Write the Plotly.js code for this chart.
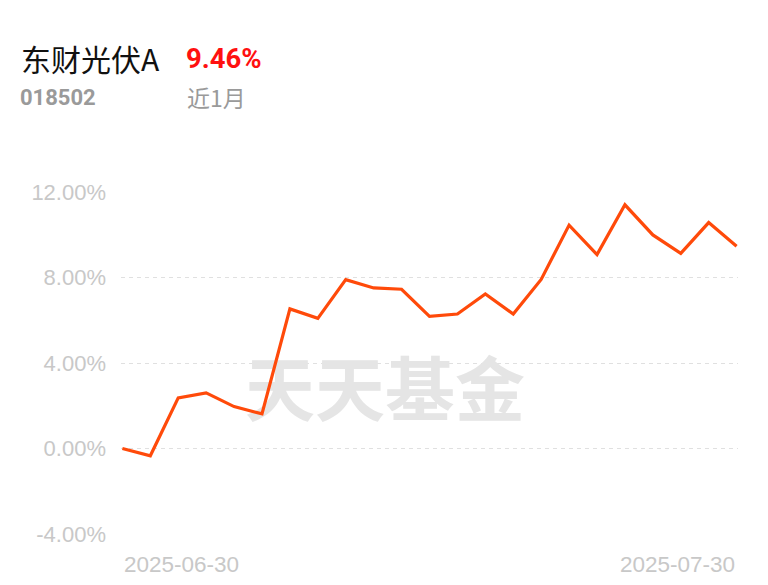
<!DOCTYPE html>
<html>
<head>
<meta charset="utf-8">
<script src="https://cdn.plot.ly/plotly-3.0.1.min.js"></script>
<style>
  html, body { margin: 0; padding: 0; background: #ffffff; }
  #chart { width: 768px; height: 585px; }
</style>
</head>
<body>
<div id="chart"></div>
<script>
const dates = ["2025-06-30","2025-07-01","2025-07-02","2025-07-03","2025-07-04",
  "2025-07-07","2025-07-08","2025-07-09","2025-07-10","2025-07-11",
  "2025-07-14","2025-07-15","2025-07-16","2025-07-17","2025-07-18",
  "2025-07-21","2025-07-22","2025-07-23","2025-07-24","2025-07-25",
  "2025-07-28","2025-07-29","2025-07-30"];
const returns = [0.00, -0.34, 2.37, 2.60, 1.96, 1.62, 6.53, 6.09, 7.90, 7.51, 7.45,
  6.18, 6.29, 7.23, 6.29, 7.91, 10.45, 9.07, 11.40, 9.99, 9.13, 10.57, 9.46];
const yTicks = [-4, 0, 4, 8, 12];
const yTickText = yTicks.map(v => v.toFixed(2) + "%");
const xLabels = ["2025-06-30", "2025-07-30"];
const fundName = "东财光伏A";
const fundCode = "018502";
const periodLabel = "近1月";
const periodReturn = "9.46%";
const watermark = "天天基金";

const mainFont = "Roboto, 'Noto Sans CJK SC', sans-serif";
const axisFont = "'Liberation Sans', Arial, sans-serif";
const cjkFont = "'Noto Sans CJK SC', Roboto, sans-serif";

const L = 121, R = 30, T = 192, B = 51;
const pw = 768 - L - R, ph = 585 - T - B;
const px = v => (v - L) / pw;
const py = v => (585 - B - v) / ph;

const traces = [
  {
    // watermark, drawn on the lower subplot layer so the line passes over it
    x: [px(385)], y: [py(398)], xaxis: "x", yaxis: "y",
    mode: "text", text: [watermark],
    textfont: { family: cjkFont, size: 70, color: "#e5e5e5", weight: 700 },
    hoverinfo: "skip", showlegend: false, cliponaxis: false
  },
  {
    x: dates, y: returns, xaxis: "x2", yaxis: "y2",
    mode: "lines", type: "scatter",
    line: { color: "#ff4a0a", width: 3.2 },
    hoverinfo: "skip", showlegend: false
  }
];

const annotations = [
  { text: fundName, x: px(19), y: py(58), xref: "paper", yref: "paper", xanchor: "left", yanchor: "middle",
    showarrow: false, font: { family: cjkFont, size: 30, color: "#111111" } },
  { text: "<b>" + periodReturn + "</b>", x: px(184), y: py(58), xref: "paper", yref: "paper", xanchor: "left", yanchor: "middle",
    showarrow: false, font: { family: mainFont, size: 27.5, color: "#ff1010" } },
  { text: "<b>" + fundCode + "</b>", x: px(18), y: py(97), xref: "paper", yref: "paper", xanchor: "left", yanchor: "middle",
    showarrow: false, font: { family: mainFont, size: 22, color: "#9a9a9a" } },
  { text: periodLabel, x: px(185), y: py(97), xref: "paper", yref: "paper", xanchor: "left", yanchor: "middle",
    showarrow: false, font: { family: cjkFont, size: 23, color: "#9a9a9a" } },
  { text: xLabels[0], x: xLabels[0], y: py(564), xref: "x2", yref: "paper", xanchor: "left", yanchor: "middle",
    showarrow: false, font: { family: axisFont, size: 22.5, color: "#c8c8c8" } },
  { text: xLabels[1], x: xLabels[1], y: py(564), xref: "x2", yref: "paper", xanchor: "right", yanchor: "middle",
    showarrow: false, font: { family: axisFont, size: 22.5, color: "#c8c8c8" } }
];

const layout = {
  width: 768, height: 585,
  margin: { l: L, r: R, t: T, b: B },
  paper_bgcolor: "#ffffff", plot_bgcolor: "#ffffff",
  showlegend: false,
  xaxis: { range: [0, 1], visible: false, fixedrange: true },
  yaxis: { range: [0, 1], visible: false, fixedrange: true },
  xaxis2: {
    type: "category", overlaying: "x", categoryorder: "array", categoryarray: dates,
    range: [-0.05, dates.length - 1 + 0.05],
    showgrid: false, zeroline: false, showline: false, showticklabels: false, ticks: ""
  },
  yaxis2: {
    overlaying: "y", side: "left",
    range: [-4, 12], tickmode: "array", tickvals: yTicks, ticktext: yTickText,
    showgrid: true, gridcolor: "#e0e0e0", gridwidth: 1, griddash: "4px,4px",
    zeroline: false, showline: false, ticks: "",
    ticklabelstandoff: 14,
    tickfont: { family: axisFont, size: 22, color: "#c8c8c8" }
  },
  annotations: annotations
};

Plotly.newPlot("chart", traces, layout, { staticPlot: true, displayModeBar: false });
</script>
</body>
</html>
